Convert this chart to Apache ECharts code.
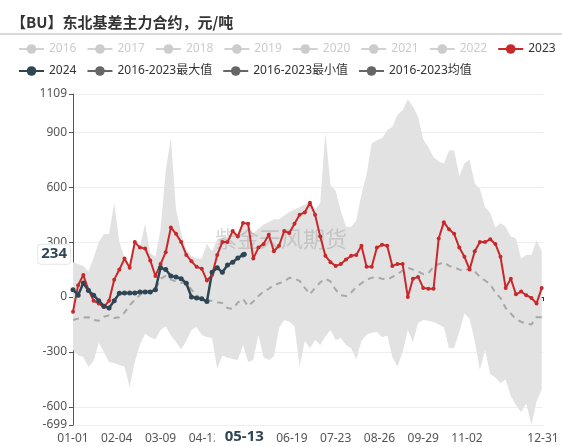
<!DOCTYPE html>
<html>
<head>
<meta charset="utf-8">
<title>【BU】东北基差主力合约</title>
<script src="https://cdn.jsdelivr.net/npm/echarts@6/dist/echarts.min.js"></script>
<style>
	html, body { margin: 0; padding: 0; background: #fff; }
	#chart { width: 562px; height: 446px; }
</style>
</head>
<body>
<div id="chart"></div>
<script>
// 日期轴：按闰年排 366 天
const monthDays = [31, 29, 31, 30, 31, 30, 31, 31, 30, 31, 30, 31]
const categories = []
monthDays.forEach((n, m) => {
	for (let d = 1; d <= n; d++) {
		categories.push(String(m + 1).padStart(2, '0') + '-' + String(d).padStart(2, '0'))
	}
})
const labelDays = ['01-01', '02-04', '03-09', '04-12', '05-16', '06-19', '07-23', '08-26', '09-29', '11-02', '12-31']

const hiddenYears = ['2016', '2017', '2018', '2019', '2020', '2021', '2022']
const step = 4 // 每 4 天读一个点，从 01-01 开始

const values2023 = [
	-80, 65, 120, 40, -20, -35, -55, -20, 95, 150,
	210, 160, 300, 270, 265, 200, 115, 180, 245, 380,
	345, 300, 230, 195, 165, 155, 90, 120, 230, 300,
	300, 360, 330, 405, 400, 210, 270, 290, 340, 250,
	280, 360, 350, 400, 450, 462, 515, 450, 330, 225,
	190, 170, 180, 205, 225, 230, 280, 165, 165, 270,
	285, 280, 170, 180, 180, 0, 100, 110, 50, 45,
	45, 320, 409, 370, 345, 270, 220, 150, 250, 300,
	300, 315, 290, 220, 50, 100, 15, 30, 10, -5,
	-35, 49
]
const values2024 = [
	40, 10, 76, 35, 10, -20, -50, -60, -20, 20,
	22, 22, 22, 27, 27, 27, 40, 160, 150, 115,
	110, 100, 75, 0, -5, -10, -25, 135, 160, 135,
	175, 190, 213, 230
]
// 最新一天
const pointerDay = '05-13'
const pointerValue = 234

const maxValues = [
	190, 180, 170, 140, 215, 300, 344, 344, 513, 300,
	215, 165, 305, 275, 400, 240, 220, 370, 690, 867,
	480, 350, 260, 225, 210, 210, 290, 250, 315, 327,
	327, 365, 350, 410, 405, 349, 375, 395, 410, 425,
	425, 445, 465, 478, 490, 505, 520, 480, 513, 900,
	610, 580, 470, 385, 382, 420, 560, 670, 840, 856,
	867, 911, 930, 995, 1020, 1080, 1040, 985, 860, 818,
	764, 740, 730, 800, 800, 660, 731, 750, 620, 590,
	490, 460, 380, 404, 382, 330, 320, 210, 230, 230,
	310, 250
]
const minValues = [
	-290, -316, -327, -382, -350, -250, -300, -355, -360, -371,
	-380, -491, -355, -260, -200, -220, -230, -180, -160, -210,
	-245, -285, -240, -180, -164, -207, -218, -224, -390, -320,
	-330, -338, -344, -260, -355, -344, -207, -330, -344, -325,
	-170, -125, -135, -160, -380, -240, -278, -235, -262, -215,
	-180, -235, -225, -262, -280, -340, -240, -205, -195, -191,
	-220, -210, -327, -380, -300, -180, -245, -142, -125, -130,
	-136, -150, -165, -280, -278, -190, -90, -120, -240, -398,
	-289, -420, -440, -469, -450, -540, -590, -630, -580, -699,
	-570, -507
]
const meanValues = [
	-125, -118, -112, -110, -125, -130, -108, -100, -115, -110,
	-85, -45, -15, 11, 35, 30, 40, 100, 115, 95,
	85, 76, 76, 40, 10, -12, -16, -22, -28, -33,
	-60, -65, -30, -10, -50, -25, 5, 30, 45, 65,
	75, 85, 105, 100, 88, 50, 15, 50, 80, 100,
	85, 40, 10, 5, 25, 55, 75, 95, 105, 108,
	100, 95, 110, 125, 145, 160, 150, 140, 125, 130,
	165, 180, 190, 170, 164, 150, 140, 160, 140, 110,
	90, 70, 25, -5, -60, -90, -120, -135, -145, -150,
	-110, -110
]
const yMin = -699
const yMax = 1109

const toPairs = arr => arr.map((v, i) => [i * step, v])
const showDay = (idx, val) => labelDays.indexOf(val) > -1
const fontFamily = "'Noto Sans', 'Noto Sans CJK SC', sans-serif"
const greyIcon = { itemStyle: { color: '#666' }, lineStyle: { color: '#666', type: 'solid', opacity: 1 } }

const chart = echarts.init(document.getElementById('chart'))

const selected = {}
hiddenYears.forEach(y => { selected[y] = false })

chart.setOption({
	animation: false,
	textStyle: { fontFamily: fontFamily },
	title: {
		text: '【BU】东北基差主力合约，元/吨',
		left: 6,
		top: 10,
		textStyle: {
			fontSize: 15,
			fontWeight: 'bold',
			color: '#333',
			fontFamily: "'Noto Sans CJK SC', sans-serif"
		}
	},
	graphic: [
		{
			type: 'line',
			shape: { x1: 0, y1: 34, x2: 562, y2: 34 },
			style: { stroke: '#ccc', lineWidth: 1.5 }
		},
		{
			// 水印，压在灰色区间上、折线下
			type: 'text',
			left: 215,
			top: 228,
			z: 2,
			style: {
				text: '紫金天风期货',
				fontSize: 22,
				fill: 'rgba(140,140,140,0.35)',
				fontFamily: "'Noto Sans CJK SC', sans-serif"
			}
		}
	],
	legend: {
		top: 38,
		left: 13,
		itemGap: 10,
		itemWidth: 25,
		itemHeight: 12,
		inactiveColor: '#ccc',
		textStyle: { fontSize: 12, color: '#333' },
		selected: selected,
		data: hiddenYears.concat(['2023', '2024']).concat([
			Object.assign({ name: '2016-2023最大值' }, greyIcon),
			Object.assign({ name: '2016-2023最小值' }, greyIcon),
			Object.assign({ name: '2016-2023均值' }, greyIcon)
		])
	},
	grid: {
		left: 73,
		right: 19,
		top: 94,
		bottom: 21
	},
	xAxis: [
		{
			// 底部日期标签
			type: 'category',
			data: categories,
			boundaryGap: false,
			position: 'bottom',
			axisLine: { show: false, onZero: false },
			axisTick: { show: false },
			axisLabel: { interval: showDay, color: '#555', fontSize: 12, margin: 8 },
			axisPointer: {
				show: true,
				status: 'show',
				value: categories.indexOf(pointerDay),
				triggerTooltip: false,
				lineStyle: { opacity: 0 },
				label: {
					show: true,
					fontSize: 15,
					fontWeight: 'bold',
					color: '#2f4554',
					backgroundColor: '#fff',
					padding: [2, 10],
					margin: 6
				}
			}
		},
		{
			// 0 轴线
			type: 'category',
			data: categories,
			boundaryGap: false,
			position: 'bottom',
			axisLine: { onZero: true, lineStyle: { color: '#333' } },
			axisTick: { interval: showDay, length: 4, lineStyle: { color: '#333' } },
			axisLabel: { show: false },
			splitLine: { show: false }
		}
	],
	yAxis: {
		type: 'value',
		min: yMin,
		max: yMax,
		axisLine: { show: true, lineStyle: { color: '#555' } },
		axisTick: { show: true, length: 4 },
		axisLabel: { color: '#555', fontSize: 12, margin: 6, formatter: v => String(v) },
		splitLine: { lineStyle: { color: '#eee' } },
		axisPointer: {
			show: true,
			status: 'show',
			value: pointerValue,
			triggerTooltip: false,
			lineStyle: { opacity: 0 },
			label: {
				show: true,
				fontSize: 15,
				fontWeight: 'bold',
				color: '#2f4554',
				backgroundColor: '#fff',
				borderColor: '#e6e6e6',
				borderWidth: 1,
				borderRadius: 3,
				padding: [2, 3],
				precision: 0
			}
		}
	},
	series: [
		{
			name: '2016-2023最小值',
			type: 'line',
			z: 1,
			stack: 'band',
			stackStrategy: 'all',
			symbol: 'none',
			lineStyle: { opacity: 0 },
			data: toPairs(minValues)
		},
		{
			// 叠在最小值上面的差值 = 灰色区间
			name: '2016-2023最大值',
			type: 'line',
			z: 1,
			stack: 'band',
			stackStrategy: 'all',
			symbol: 'none',
			lineStyle: { opacity: 0 },
			areaStyle: { color: '#e2e2e2', opacity: 1 },
			data: maxValues.map((v, i) => [i * step, v - minValues[i]])
		},
		...hiddenYears.map(y => ({ name: y, type: 'line', symbol: 'circle', data: [] })),
		{
			name: '2016-2023均值',
			type: 'line',
			z: 3,
			symbol: 'none',
			color: '#666',
			lineStyle: { color: '#a8a8a8', width: 2, type: [6, 5] },
			data: toPairs(meanValues)
		},
		{
			name: '2023',
			type: 'line',
			z: 3,
			color: '#c8282a',
			symbol: 'circle',
			symbolSize: 4,
			showAllSymbol: true,
			lineStyle: { width: 2 },
			data: toPairs(values2023)
		},
		{
			name: '2024',
			type: 'line',
			z: 3,
			color: '#2f4554',
			symbol: 'circle',
			symbolSize: 5,
			showAllSymbol: true,
			lineStyle: { width: 2.5 },
			data: toPairs(values2024).concat([[categories.indexOf(pointerDay), pointerValue]])
		}
	]
})
</script>
</body>
</html>
